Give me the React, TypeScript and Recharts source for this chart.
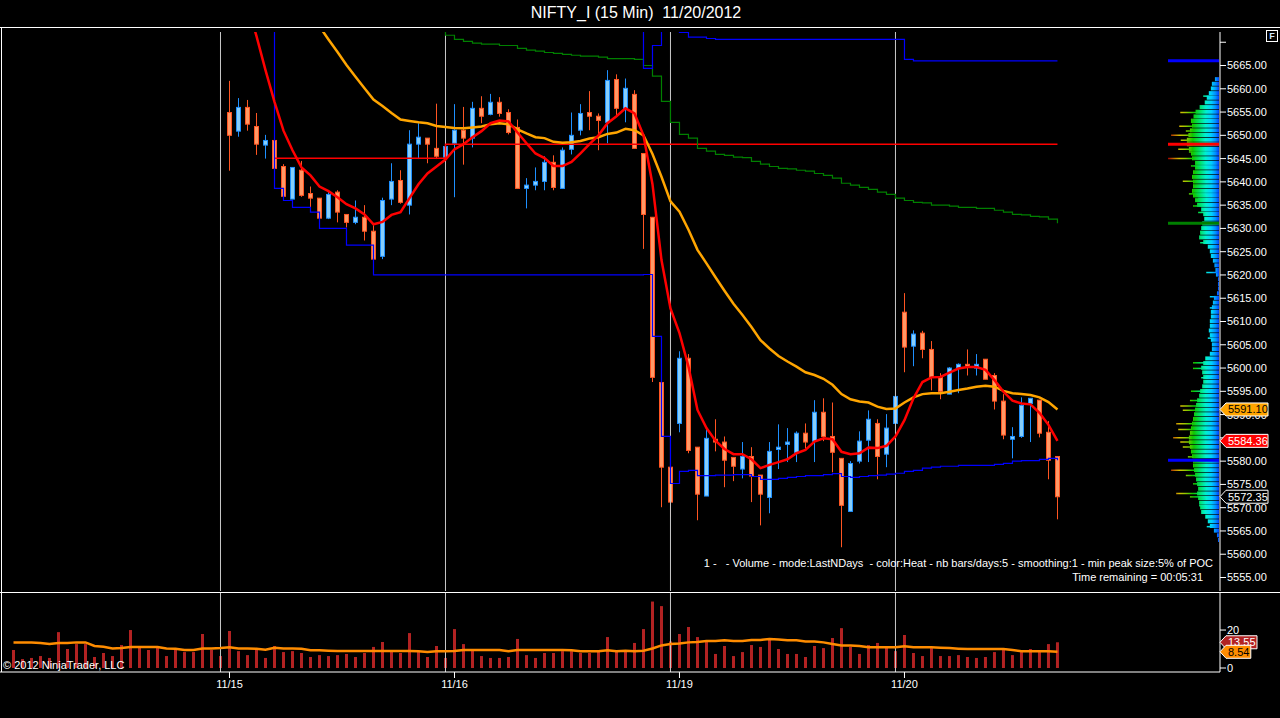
import React from 'react';
import {
  Bar,
  BarChart,
  Cell,
  ComposedChart,
  Line,
  ReferenceDot,
  ReferenceLine,
  XAxis,
  YAxis,
} from 'recharts';

// NIFTY_I 15 min bars, index 0 = first bar on screen (11/14 session is off the top)
const BAR_COUNT = 117;
const dayBreakBars = [23, 48, 73, 98];
const dayStartBars = [24, 49, 74, 99];
const dayLabels = ['11/15', '11/16', '11/19', '11/20'];

const FIRST_CANDLE = 24;
const opens = [
  5654.9, 5650.9, 5656.0, 5651.9, 5647.9, 5648.9, 5643.3, 5636.3, 5642.5, 5637.5, 5636.5, 5632.2, 5637.8,
  5633.0, 5631.3, 5632.4, 5629.4, 5624.0, 5636.3, 5640.3, 5635.0, 5648.1, 5649.4, 5647.2, 5645.3,
  5648.3, 5651.1, 5649.4, 5655.8, 5654.5, 5657.1, 5654.9, 5651.7, 5638.6, 5639.3, 5640.1, 5644.2, 5638.6,
  5647.0, 5651.1, 5654.9, 5654.1, 5652.8, 5662.0, 5655.8, 5658.8, 5646.1, 5632.4, 5596.9, 5578.7,
  5588.1, 5602.1, 5583.0, 5572.5, 5584.7, 5584.1, 5580.8, 5578.3, 5581.0, 5577.0, 5572.2, 5582.5, 5583.6,
  5581.9, 5586.0, 5584.3, 5590.5, 5585.3, 5580.6, 5569.2, 5580.0, 5584.5, 5588.1, 5581.5, 5588.1,
  5612.0, 5604.7, 5607.5, 5604.0, 5598.0, 5594.4, 5600.0, 5600.8, 5600.0, 5601.9, 5598.4, 5592.9, 5584.7,
  5585.3, 5592.4, 5593.1, 5586.2, 5581.0,
];
const highs = [
  5661.7, 5658.0, 5657.6, 5654.8, 5650.1, 5649.0, 5643.8, 5643.1, 5644.5, 5639.0, 5636.5, 5637.8, 5638.2,
  5633.0, 5636.0, 5635.0, 5630.7, 5636.6, 5644.0, 5642.5, 5651.1, 5652.6, 5649.4, 5656.8, 5649.8,
  5656.7, 5656.1, 5657.2, 5658.4, 5658.9, 5658.2, 5655.6, 5653.4, 5640.8, 5643.1, 5645.5, 5645.7, 5647.4,
  5654.9, 5656.7, 5659.5, 5654.7, 5664.0, 5663.1, 5662.2, 5659.7, 5646.1, 5632.4, 5596.9, 5578.7,
  5603.6, 5603.0, 5583.0, 5586.8, 5589.0, 5585.3, 5580.8, 5584.1, 5583.0, 5577.0, 5584.1, 5587.9, 5587.1,
  5586.4, 5588.1, 5593.1, 5593.5, 5592.6, 5580.6, 5580.0, 5586.4, 5590.9, 5589.0, 5590.1, 5593.9,
  5616.1, 5608.1, 5608.0, 5605.8, 5598.9, 5600.2, 5601.0, 5604.0, 5603.0, 5601.9, 5598.9, 5594.4, 5587.3,
  5593.7, 5593.5, 5593.1, 5588.6, 5581.0,
];
const lows = [
  5642.4, 5649.7, 5651.0, 5645.8, 5645.0, 5642.6, 5636.7, 5636.3, 5636.8, 5634.6, 5632.0, 5632.0, 5631.3,
  5630.2, 5630.9, 5627.4, 5623.4, 5623.4, 5635.0, 5635.3, 5633.0, 5644.9, 5644.0, 5644.9, 5645.0,
  5636.7, 5643.7, 5647.4, 5652.6, 5654.3, 5654.0, 5650.2, 5638.6, 5634.3, 5638.2, 5638.2, 5638.2, 5638.6,
  5645.9, 5650.0, 5651.1, 5646.8, 5648.3, 5654.3, 5652.8, 5647.2, 5625.6, 5597.0, 5570.1, 5568.0,
  5586.2, 5581.7, 5567.3, 5572.5, 5582.1, 5574.4, 5575.7, 5576.3, 5571.2, 5566.2, 5568.8, 5578.3, 5579.8,
  5579.8, 5582.7, 5579.8, 5584.3, 5577.6, 5561.5, 5569.2, 5579.5, 5579.8, 5576.1, 5578.7, 5587.1,
  5599.1, 5600.4, 5602.1, 5595.2, 5593.3, 5594.4, 5594.6, 5598.4, 5598.4, 5597.6, 5591.1, 5584.7, 5580.6,
  5585.0, 5584.1, 5585.1, 5576.1, 5567.5,
];
const closes = [
  5650.0, 5656.0, 5652.4, 5648.1, 5648.9, 5642.9, 5636.9, 5643.1, 5637.1, 5636.5, 5632.2, 5637.3, 5633.5,
  5631.3, 5632.4, 5629.4, 5623.4, 5636.0, 5640.1, 5635.6, 5648.1, 5649.6, 5648.1, 5645.5, 5647.6,
  5651.1, 5649.4, 5655.8, 5654.1, 5657.1, 5654.7, 5650.6, 5638.6, 5639.3, 5640.1, 5644.2, 5638.8, 5646.8,
  5650.0, 5654.7, 5654.1, 5653.2, 5661.8, 5655.8, 5660.1, 5647.2, 5633.0, 5598.0, 5578.7, 5571.2,
  5602.1, 5582.3, 5572.9, 5584.9, 5584.1, 5580.2, 5578.9, 5581.0, 5576.8, 5572.9, 5582.1, 5583.0, 5584.1,
  5586.0, 5584.1, 5590.5, 5585.3, 5581.9, 5570.5, 5579.5, 5584.3, 5589.0, 5581.0, 5587.1, 5593.9,
  5604.5, 5607.3, 5604.0, 5598.0, 5595.0, 5600.0, 5600.8, 5600.2, 5600.8, 5597.6, 5592.9, 5585.6, 5585.3,
  5592.0, 5593.5, 5586.0, 5580.2, 5572.35,
];

// fast average (red)
const RED_MA_START = 26;
const redMa = [
  5678.0, 5671.3, 5664.0, 5657.2, 5651.0, 5646.8, 5643.1, 5641.4, 5639.0, 5638.0, 5636.7, 5635.2, 5634.3,
  5633.0, 5630.9, 5631.4, 5632.9, 5633.5, 5636.5, 5639.5, 5641.8, 5643.3, 5644.8,
  5647.0, 5648.1, 5649.6, 5650.9, 5652.6, 5653.2, 5653.0, 5650.6, 5648.3, 5646.1, 5645.1, 5643.4, 5643.4,
  5644.3, 5646.1, 5648.1, 5650.0, 5652.6, 5654.1, 5655.8, 5654.7, 5650.0, 5639.5, 5623.2, 5612.8,
  5607.5, 5600.3, 5591.0, 5587.1, 5584.4, 5582.6, 5581.5, 5581.5, 5580.4, 5578.5, 5579.2, 5579.8, 5580.4,
  5581.7, 5582.4, 5584.2, 5584.9, 5584.7, 5582.0, 5581.5, 5581.7, 5582.9, 5582.8, 5583.3, 5585.3,
  5588.8, 5593.5, 5597.0, 5598.0, 5598.1, 5599.0, 5599.9, 5600.2, 5600.2, 5599.6, 5597.4, 5594.9, 5593.0,
  5592.4, 5592.2, 5590.4, 5587.8, 5584.36,
];

// slow average (orange)
const ORANGE_MA_START = 33;
const orangeMa = [
  5676.2, 5673.4, 5670.6, 5667.9, 5665.1, 5662.6, 5660.1, 5657.7, 5656.3, 5654.8, 5653.4, 5653.1, 5652.8,
  5652.6, 5652.0, 5651.8,
  5651.6, 5651.5, 5651.7, 5651.9, 5652.4, 5652.6, 5652.4, 5651.3, 5650.4, 5649.6, 5649.4, 5648.6, 5648.4,
  5648.5, 5648.8, 5649.3, 5649.6, 5650.3, 5650.6, 5651.4, 5651.1, 5650.0, 5646.0, 5641.1, 5635.8,
  5633.6, 5629.7, 5625.4, 5622.5, 5619.5, 5616.6, 5613.8, 5611.4, 5608.8, 5606.0, 5604.2, 5602.6, 5601.4,
  5600.3, 5599.1, 5598.5, 5597.7, 5596.4, 5594.4, 5593.3, 5592.8, 5592.6, 5591.7, 5591.2, 5591.3,
  5592.6, 5593.7, 5594.4, 5594.6, 5594.6, 5594.9, 5595.3, 5595.6, 5596.0, 5596.2, 5596.0, 5595.1, 5594.6,
  5594.4, 5594.2, 5593.7, 5592.7, 5591.1,
];

// stepped blue lines (lower / upper) and green line
const BLUE_LOW_START = 28;
const blueLow = [
  5680.0, 5638.6, 5636.0, 5634.5, 5634.5, 5633.5, 5630.0, 5630.0, 5630.0, 5626.4, 5626.4, 5626.4,
  5620.0, 5620.0, 5620.0, 5620.0, 5620.0, 5620.0, 5620.0, 5620.0, 5620.0, 5620.0,
  5620.0, 5620.0, 5620.0, 5620.0, 5620.0, 5620.0, 5620.0, 5620.0, 5620.0, 5620.0,
  5620.0, 5620.0, 5620.0, 5620.0, 5620.0, 5620.0, 5620.0, 5620.0, 5620.0, 5620.0,
  5620.1, 5606.8, 5585.3, 5575.2,
  5577.8, 5578.0, 5576.9, 5576.9, 5577.0, 5577.0, 5577.1, 5577.1, 5576.7, 5576.1, 5576.1, 5576.3, 5576.5,
  5576.7, 5576.9, 5576.9, 5577.1, 5577.3, 5576.7, 5576.5, 5576.7, 5576.9, 5577.0, 5577.2, 5577.4,
  5577.8, 5578.0, 5578.5, 5578.7, 5578.9, 5578.9, 5579.1, 5579.1, 5579.1, 5579.1, 5579.3, 5579.5, 5580.0,
  5580.1, 5580.1, 5580.4, 5580.6, 5580.2,
];
const BLUE_HIGH_START = 69;
const blueHigh = [
  5680.0, 5664.4, 5669.3, 5680.0, 5680.0,
  5672.1, 5671.1, 5671.1, 5670.8, 5670.6, 5670.6, 5670.6, 5670.6, 5670.6, 5670.6, 5670.6, 5670.6, 5670.6,
  5670.6, 5670.6, 5670.6, 5670.6, 5670.6, 5670.6, 5670.6, 5670.6, 5670.6, 5670.6, 5670.6, 5670.6,
  5666.3, 5666.0, 5666.0, 5666.0, 5666.0, 5666.0, 5666.0, 5666.0, 5666.0, 5666.0, 5666.0, 5666.0, 5666.0,
  5666.0, 5666.0, 5666.0, 5666.0, 5666.0,
];
const GREEN_START = 47;
const greenLine = [
  5680.0, 5671.5,
  5670.6, 5670.2, 5669.8, 5669.6, 5669.6, 5669.3, 5669.3, 5668.7, 5668.3, 5668.1, 5667.8, 5667.6, 5667.4,
  5667.2, 5667.0, 5667.0, 5666.8, 5666.5, 5666.5, 5666.5, 5666.3, 5665.0, 5662.7, 5657.3, 5652.8,
  5650.2, 5649.4, 5647.2, 5646.6, 5645.9, 5645.7, 5645.3, 5645.2, 5644.4, 5643.8, 5643.3, 5642.9, 5642.8,
  5642.5, 5642.3, 5641.8, 5641.4, 5640.8, 5639.7, 5639.3, 5638.8, 5638.4, 5637.8, 5637.3, 5636.5,
  5636.0, 5635.6, 5635.5, 5635.0, 5635.0, 5634.8, 5634.5, 5634.5, 5634.3, 5634.3, 5633.9, 5633.5, 5633.0,
  5632.9, 5632.6, 5632.5, 5632.0, 5631.1,
];
// red point-of-control level, changes once
const pocSteps = [
  { from: 29, value: 5645.1 },
  { from: 48, value: 5648.1 },
];

const volumes = [
  9.5, 4.7, 5.3, 6.3, 5.3, 18.9, 10.0, 12.6, 12.6, 5.8, 7.9, 6.3, 12.1, 20.0, 11.6, 9.5, 11.6, 6.3, 10.0,
  8.4, 8.4, 17.9, 9.5, 6.3,
  19.5, 8.9, 6.8, 9.5, 5.3, 11.6, 8.4, 8.9, 7.9, 5.8, 6.8, 6.3, 6.8, 7.4, 5.8, 7.9, 11.1, 13.7, 9.5, 7.9,
  18.4, 8.4, 5.8, 11.6, 5.3,
  20.5, 12.6, 10.0, 6.3, 5.3, 5.3, 5.8, 15.3, 6.8, 5.3, 7.9, 7.9, 8.9, 8.9, 7.9, 7.9, 8.9, 16.3, 8.9, 8.9,
  13.2, 20.5, 35.0, 32.6, 14.0,
  17.9, 21.6, 16.3, 14.7, 7.4, 11.6, 6.3, 8.4, 12.1, 11.1, 15.3, 10.0, 7.4, 7.4, 5.8, 11.6, 10.5, 15.8,
  21.0, 11.1, 7.4, 12.1, 13.2, 11.6, 8.9,
  17.4, 7.9, 6.3, 10.5, 6.3, 6.3, 6.8, 5.8, 5.3, 5.8, 8.4, 9.5, 6.8, 8.4, 10.0, 8.4, 12.6, 13.55,
];
const volumeMa = [
  13.5, 13.5, 13.4, 13.2, 12.6, 13.2, 13.2, 13.5, 13.5, 11.6, 11.2, 10.3, 10.5, 11.1, 11.1, 11.1, 11.1,
  10.3, 10.1, 9.5, 9.5, 10.3, 10.3, 10.5,
  10.9, 10.3, 10.3, 10.1, 9.6, 10.7, 10.3, 10.3, 10.1, 9.3, 9.3, 9.1, 9.0, 9.0, 9.0, 9.0, 9.0, 9.0, 9.0,
  9.0, 9.0, 8.8, 8.4, 8.8, 8.8,
  9.0, 9.5, 9.5, 9.5, 9.5, 9.5, 8.8, 9.5, 9.5, 9.5, 9.5, 9.5, 9.5, 9.3, 8.8, 8.8, 8.8, 9.3, 8.8, 9.1,
  8.8, 9.1, 10.3, 11.9, 12.6,
  12.9, 13.5, 13.7, 14.2, 14.2, 14.6, 14.2, 14.2, 14.8, 14.8, 15.3, 15.0, 14.6, 14.6, 14.0, 14.0, 13.5,
  12.6, 11.9, 11.9, 11.6, 10.9, 10.9, 10.9, 10.9,
  11.4, 10.9, 10.9, 10.9, 10.7, 10.5, 10.2, 10.0, 10.0, 10.0, 10.0, 10.0, 9.5, 8.8, 8.8, 8.8, 8.8, 8.54,
];

const priceTicks = [
  5555, 5560, 5565, 5570, 5575, 5580, 5585, 5590, 5595, 5600, 5605, 5610, 5615, 5620, 5625, 5630, 5635,
  5640, 5645, 5650, 5655, 5660, 5665, 5670,
];
const volumeTicks = [0, 20];

// volume profile on the right, % of the longest row; one row per point from 5662 down
const PROFILE_TOP = 5662;
const profileBase = [
  8, 14, 16, 20, 24, 28, 38, 46, 50, 55,
  53, 57, 60, 63, 63, 59, 55, 53, 47, 47,
  51, 53, 51, 51, 53, 51, 47, 43, 35, 31,
  29, 33, 35, 37, 39, 31, 22, 18, 16, 12,
  9, 7, 6, 2, 2, 2, 4, 10, 12, 14,
  16, 16, 18, 18, 20, 18, 16, 14, 14, 18,
  27, 31, 35, 33, 31, 31, 33, 37, 39, 43,
  45, 47, 49, 51, 53, 55, 57, 59, 59, 57,
  55, 53, 51, 51, 49, 47, 45, 43, 41, 43,
  41, 39, 37, 35, 27, 22, 18, 10, 4, 2,
];
const profileSpikePrices = [
  5658.5, 5655.0, 5653.5, 5652.0, 5651.0, 5650.1, 5649.0, 5647.1, 5646.5, 5645.1, 5643.5, 5642.0, 5640.2,
  5639.0, 5637.5, 5636.5, 5634.9, 5633.5, 5629.4, 5627.0, 5620.6, 5615.4, 5613.0, 5606.5, 5601.2, 5600.0,
  5598.0, 5595.1, 5593.1, 5591.9, 5591.0, 5588.1, 5586.9, 5585.1, 5584.2, 5583.1, 5581.0, 5578.1, 5577.0,
  5575.2, 5573.1, 5572.4, 5570.5, 5566.0,
];
const profileSpikeValues = [
  31, 76, 55, 78, 65, 94, 75, 80, 59, 100, 55, 51, 71,
  49, 59, 41, 51, 41, 37, 37, 25, 18, 18, 22, 51, 51,
  35, 55, 57, 76, 71, 84, 80, 90, 76, 71, 61, 94, 65,
  51, 84, 57, 39, 24,
];

const PRICE_MIN = 5552.1;
const PRICE_MAX = 5672.2;
const VOL_MIN = -2.1;
const VOL_MAX = 39.5;
const X_MIN = -1.5;
const X_MAX = 134.06;

const pick = (arr: number[], start: number, i: number): number | null => {
  const v = arr[i - start];
  return v === undefined ? null : v;
};
const pocAt = (i: number): number | null => {
  let v: number | null = null;
  pocSteps.forEach((s) => {
    if (i >= s.from) v = s.value;
  });
  return v;
};

const rows = Array.from({ length: BAR_COUNT }, (_, i) => ({
  i,
  o: pick(opens, FIRST_CANDLE, i),
  h: pick(highs, FIRST_CANDLE, i),
  l: pick(lows, FIRST_CANDLE, i),
  c: pick(closes, FIRST_CANDLE, i),
  red: pick(redMa, RED_MA_START, i),
  orange: pick(orangeMa, ORANGE_MA_START, i),
  blueLow: pick(blueLow, BLUE_LOW_START, i),
  blueHigh: pick(blueHigh, BLUE_HIGH_START, i),
  green: pick(greenLine, GREEN_START, i),
  poc: pocAt(i),
  vol: volumes[i],
  volMa: volumeMa[i],
}));

const profileRows = profileBase.map((v, k) => ({ price: PROFILE_TOP - k, vol: v }));
const spikeRows = profileSpikePrices.map((p, k) => ({ price: p, vol: profileSpikeValues[k] }));

const last = (arr: number[]) => arr[arr.length - 1];
const lastPoc = pocSteps[pocSteps.length - 1].value;

// heat colours for the profile, blue at the axis to hot at the row tip
const HEAT_STOPS: [number, string][] = [
  [0, '#0040ff'],
  [0.07, '#0090ff'],
  [0.16, '#00d0ff'],
  [0.27, '#00f0d0'],
  [0.4, '#00e060'],
  [0.52, '#10c800'],
  [0.66, '#90c800'],
  [0.78, '#d0c000'],
  [0.88, '#c07000'],
  [1, '#a00000'],
];
const toRgb = (c: string) => [1, 3, 5].map((k) => parseInt(c.slice(k, k + 2), 16));
const heatAt = (p: number) => {
  for (let k = 1; k < HEAT_STOPS.length; k++) {
    const [p0, c0] = HEAT_STOPS[k - 1];
    const [p1, c1] = HEAT_STOPS[k];
    if (p <= p1) {
      const t = (p - p0) / (p1 - p0);
      const a = toRgb(c0);
      const b = toRgb(c1);
      return `rgb(${a.map((x, j) => Math.round(x + (b[j] - x) * t)).join(',')})`;
    }
  }
  return HEAT_STOPS[HEAT_STOPS.length - 1][1];
};
const BUCKETS = 20;
const bucketOf = (v: number) => Math.min(BUCKETS - 1, Math.max(0, Math.ceil((v / 100) * BUCKETS) - 1));

const HeatDefs = () => (
  <svg width={0} height={0} style={{ position: 'absolute' }}>
    <defs>
      {Array.from({ length: BUCKETS }, (_, k) => {
        const t = (k + 1) / BUCKETS;
        const stops = HEAT_STOPS.filter(([p]) => p < t);
        return (
          <linearGradient id={`heat${k}`} key={k} x1="1" y1="0" x2="0" y2="0">
            {stops.map(([p, c]) => (
              <stop key={p} offset={p / t} stopColor={c} />
            ))}
            <stop offset={1} stopColor={heatAt(t)} />
          </linearGradient>
        );
      })}
    </defs>
  </svg>
);

const Candle = (props: any) => {
  const { x, y, width, height, payload } = props;
  if (!payload || payload.h == null || !Number.isFinite(y) || !Number.isFinite(height)) return null;
  const top = Math.min(y, y + height);
  const bottom = Math.max(y, y + height);
  const span = payload.h - payload.l;
  const toY = (v: number) => (span > 0 ? top + ((payload.h - v) / span) * (bottom - top) : top);
  const up = payload.c >= payload.o;
  const edge = up ? '#1e90ff' : '#ff5522';
  const fill = up ? '#87cefa' : '#ff9966';
  const mid = Math.round(x + width / 2) + 0.5;
  const yo = toY(payload.o);
  const yc = toY(payload.c);
  return (
    <g>
      <line x1={mid} x2={mid} y1={top} y2={bottom} stroke={edge} strokeWidth={1} />
      <rect
        x={mid - 2}
        y={Math.min(yo, yc)}
        width={4}
        height={Math.max(Math.abs(yo - yc), 1)}
        fill={fill}
        stroke={edge}
        strokeWidth={1}
      />
    </g>
  );
};

type TagProps = { cx?: number; cy?: number; text: string; fill: string; color: string; width: number };
const AxisTag = ({ cx, cy, text, fill, color, width }: TagProps) => {
  if (cx == null || cy == null || !Number.isFinite(cx) || !Number.isFinite(cy)) return null;
  const h = 6.5;
  const pts = `${cx},${cy} ${cx + 6},${cy - h} ${cx + width},${cy - h} ${cx + width},${cy + h} ${cx + 6},${cy + h}`;
  return (
    <g>
      <polygon points={pts} fill={fill} stroke="#ffffff" strokeWidth={1} />
      <text x={cx + 8} y={cy + 4} fill={color} fontSize={11}>
        {text}
      </text>
    </g>
  );
};

const priceTags = [
  { value: last(orangeMa), fill: '#ffa500', color: '#000000' },
  { value: last(redMa), fill: '#ff0000', color: '#ffffff' },
  { value: last(closes), fill: '#000000', color: '#ffffff' },
];
const volumeTags = [
  { value: last(volumes), fill: '#b22222', color: '#ffffff' },
  { value: last(volumeMa), fill: '#ff8c00', color: '#000000' },
];

const profileMarkers = [
  { value: last(blueHigh), color: '#0000ff' },
  { value: lastPoc, color: '#ff0000' },
  { value: last(greenLine), color: '#008000' },
  { value: last(blueLow), color: '#0000ff' },
];

const axisTick = { fill: '#ffffff', fontSize: 11 };
const white = '#ffffff';
const PRICE_MARGIN = { top: 32, right: 0, bottom: 1, left: 0 };

const PriceChart = () => (
  <ComposedChart width={1280} height={592} data={rows} margin={PRICE_MARGIN}>
    <XAxis dataKey="i" type="number" domain={[X_MIN, X_MAX]} allowDataOverflow hide />
    <YAxis
      orientation="right"
      width={60}
      type="number"
      domain={[PRICE_MIN, PRICE_MAX]}
      allowDataOverflow
      ticks={priceTicks}
      interval={0}
      tickFormatter={(v: number) => (v === 5670 ? '' : v.toFixed(2))}
      stroke={white}
      tick={axisTick}
      tickSize={6}
      tickMargin={1}
    />
    {dayBreakBars.map((b) => (
      <ReferenceLine key={b} x={b} stroke="#c8c8c8" strokeWidth={1} />
    ))}
    <Line dataKey="poc" type="stepAfter" stroke="#ff0000" strokeWidth={1.5} dot={false} isAnimationActive={false} />
    <Line dataKey="green" type="stepAfter" stroke="#008000" strokeWidth={1.2} dot={false} isAnimationActive={false} />
    <Line dataKey="blueLow" type="stepAfter" stroke="#0000ff" strokeWidth={1.2} dot={false} isAnimationActive={false} />
    <Line dataKey="blueHigh" type="stepAfter" stroke="#0000ff" strokeWidth={1.2} dot={false} isAnimationActive={false} />
    <Bar
      dataKey={(d: any) => (d.h == null ? null : [d.l, d.h])}
      barSize={5}
      shape={Candle}
      isAnimationActive={false}
    />
    <Line dataKey="orange" stroke="#ffa500" strokeWidth={2.5} dot={false} isAnimationActive={false} />
    <Line dataKey="red" stroke="#ff0000" strokeWidth={2.5} dot={false} isAnimationActive={false} />
  </ComposedChart>
);

// last-value tags drawn in their own layer so they sit above the axis labels
const PriceTagLayer = () => (
  <ComposedChart width={1280} height={592} data={rows} margin={PRICE_MARGIN}>
    <XAxis dataKey="i" type="number" domain={[X_MIN, X_MAX]} allowDataOverflow hide />
    <YAxis
      orientation="right"
      width={60}
      type="number"
      domain={[PRICE_MIN, PRICE_MAX]}
      allowDataOverflow
      tick={false}
      tickLine={false}
      axisLine={false}
    />
    {priceTags.map((t) => (
      <ReferenceDot
        key={t.fill}
        x={X_MAX}
        y={t.value}
        r={0}
        ifOverflow="visible"
        shape={(p: any) => (
          <AxisTag cx={p.cx} cy={p.cy} text={t.value.toFixed(2)} fill={t.fill} color={t.color} width={48} />
        )}
      />
    ))}
  </ComposedChart>
);

const VolumeChart = () => (
  <ComposedChart width={1280} height={100} data={rows} margin={{ top: 1, right: 0, bottom: 0, left: 0 }}>
    <XAxis
      dataKey="i"
      type="number"
      domain={[X_MIN, X_MAX]}
      allowDataOverflow
      ticks={dayStartBars}
      interval={0}
      tickFormatter={(v: number) => dayLabels[dayStartBars.indexOf(v)] ?? ''}
      stroke={white}
      tick={axisTick}
      tickSize={6}
      tickMargin={2}
      height={20}
    />
    <YAxis
      orientation="right"
      width={60}
      type="number"
      domain={[VOL_MIN, VOL_MAX]}
      allowDataOverflow
      ticks={volumeTicks}
      interval={0}
      stroke={white}
      tick={axisTick}
      tickSize={6}
      tickMargin={1}
    />
    {dayBreakBars.map((b) => (
      <ReferenceLine key={b} x={b} stroke="#c8c8c8" strokeWidth={1} />
    ))}
    <Bar dataKey="vol" barSize={3} fill="#b22222" isAnimationActive={false} />
    <Line dataKey="volMa" stroke="#ff8c00" strokeWidth={2.5} dot={false} isAnimationActive={false} />
    {volumeTags.map((t) => (
      <ReferenceDot
        key={t.fill}
        x={X_MAX}
        y={t.value}
        r={0}
        ifOverflow="visible"
        shape={(p: any) => (
          <AxisTag
            cx={p.cx}
            cy={p.cy}
            text={t.value.toFixed(2)}
            fill={t.fill}
            color={t.color}
            width={t.value.toFixed(2).length * 6.2 + 6}
          />
        )}
      />
    ))}
  </ComposedChart>
);

const ProfileChart = ({
  data,
  barSize,
  markers,
}: {
  data: { price: number; vol: number }[];
  barSize: number;
  markers?: boolean;
}) => (
  <BarChart layout="vertical" width={51} height={592} data={data} margin={PRICE_MARGIN}>
    <XAxis type="number" domain={[0, 100]} reversed allowDataOverflow hide />
    <YAxis type="number" dataKey="price" domain={[PRICE_MIN, PRICE_MAX]} reversed allowDataOverflow hide />
    <Bar dataKey="vol" barSize={barSize} isAnimationActive={false}>
      {data.map((d) => (
        <Cell key={d.price} fill={`url(#heat${bucketOf(d.vol)})`} />
      ))}
    </Bar>
    {markers &&
      profileMarkers.map((m) => <ReferenceLine key={m.value} y={m.value} stroke={m.color} strokeWidth={3} />)}
  </BarChart>
);

const abs = (left: number, top: number): React.CSSProperties => ({ position: 'absolute', left, top });

export default function App() {
  return (
    <div
      style={{
        position: 'absolute',
        left: 0,
        top: 0,
        width: 1280,
        height: 718,
        background: '#000000',
        overflow: 'hidden',
        color: '#ffffff',
        fontFamily: '"Liberation Sans", Arial, sans-serif',
      }}
    >
      <HeatDefs />
      <div
        style={{ position: 'absolute', left: 0, top: 4, width: 1272, textAlign: 'center', fontSize: 16, lineHeight: '18px' }}
      >
        NIFTY_I (15 Min)&nbsp;&nbsp;11/20/2012
      </div>
      <div style={{ position: 'absolute', left: 0, top: 27, width: 1280, height: 1, background: white }} />
      <div style={{ position: 'absolute', left: 1, top: 27, width: 1, height: 645, background: white }} />
      <div style={abs(0, 0)}>
        <PriceChart />
      </div>
      <div style={abs(1168, 0)}>
        <ProfileChart data={profileRows} barSize={4} />
      </div>
      <div style={abs(1168, 0)}>
        <ProfileChart data={spikeRows} barSize={1.5} markers />
      </div>
      <div style={abs(0, 0)}>
        <PriceTagLayer />
      </div>
      <div style={{ position: 'absolute', left: 0, top: 592, width: 1280, height: 1, background: white }} />
      <div style={abs(0, 592)}>
        <VolumeChart />
      </div>
      <div
        style={{
          position: 'absolute',
          left: 1266,
          top: 30,
          width: 10,
          height: 10,
          border: '1px solid #ffffff',
          fontSize: 9,
          fontWeight: 'bold',
          lineHeight: '10px',
          textAlign: 'center',
          color: '#cfe6ff',
        }}
      >
        F
      </div>
      <div style={{ position: 'absolute', right: 67, top: 557, fontSize: 11, lineHeight: '13px', whiteSpace: 'pre' }}>
        {'1 -   - Volume - mode:LastNDays  - color:Heat - nb bars/days:5 - smoothing:1 - min peak size:5% of POC'}
      </div>
      <div style={{ position: 'absolute', right: 77, top: 571, fontSize: 11, lineHeight: '13px', whiteSpace: 'pre' }}>
        Time remaining = 00:05:31
      </div>
      <div style={{ position: 'absolute', left: 3, top: 659, fontSize: 11, lineHeight: '13px' }}>
        © 2012 NinjaTrader, LLC
      </div>
    </div>
  );
}
